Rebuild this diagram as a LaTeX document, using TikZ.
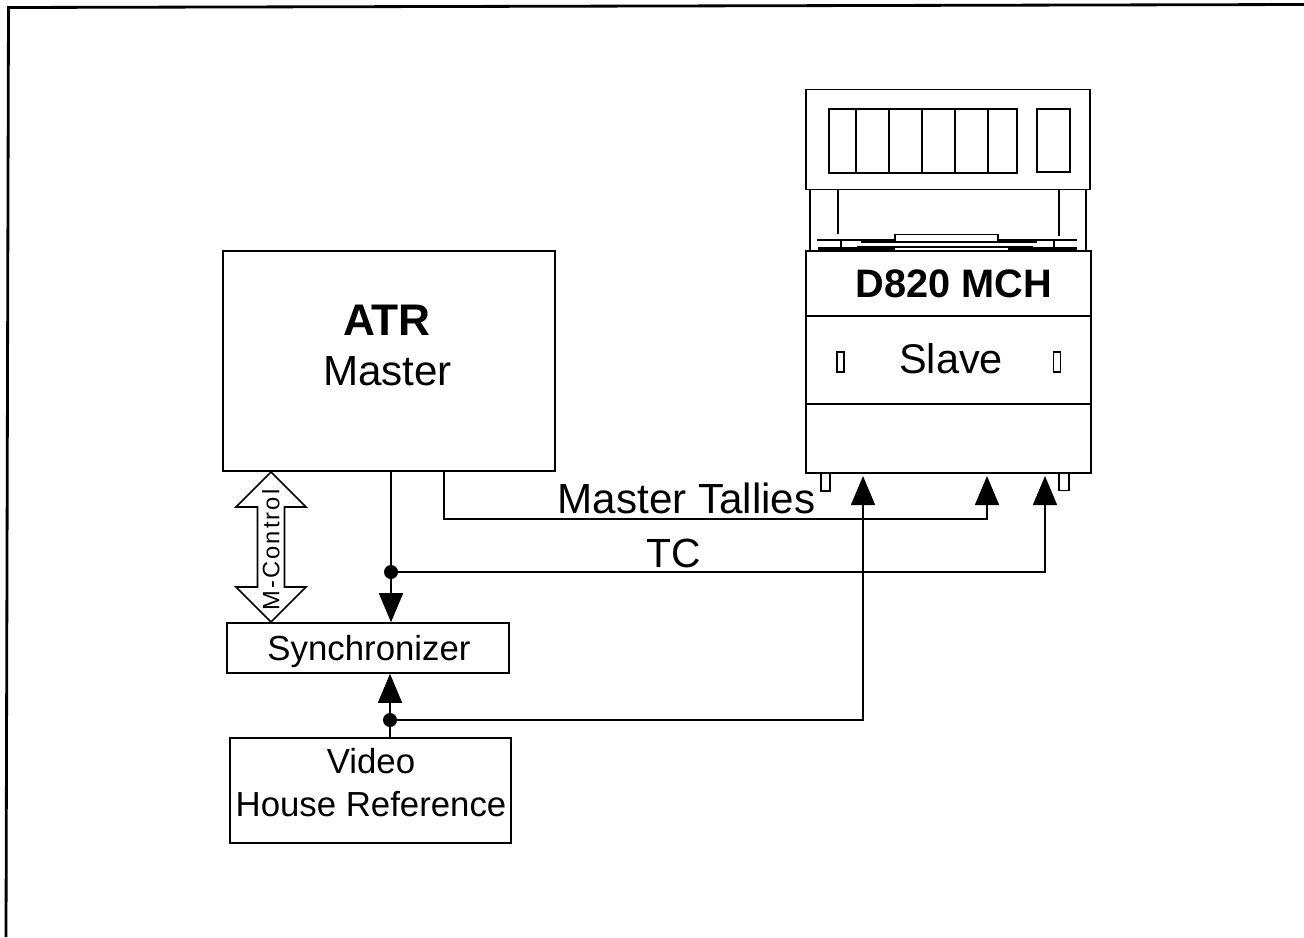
\documentclass[tikz,border=0pt]{standalone}
\usepackage{fontspec}
\setmainfont{Liberation Sans}
\newfontfamily\spacedfont[LetterSpace=9]{Liberation Sans}
\usetikzlibrary{arrows.meta,shapes.arrows}
\tikzset{
  box/.style={draw, line width=0.9pt, inner sep=0pt},
  big/.style={font=\fontsize{24}{26}\selectfont},
  small/.style={font=\fontsize{19.8}{23}\selectfont},
  dot/.style={circle, fill=black, inner sep=0pt, minimum size=0.28cm},
  link/.style={line width=0.9pt},
  tip/.style={link, -{Triangle[length=0.58cm,width=0.48cm]}, shorten >=0.06cm},
}
\begin{document}
\begin{tikzpicture}[x=0.02cm, y=-0.02cm]
\useasboundingbox (0,0) rectangle (1304,937);
\draw[line width=1.6pt] (6,937) -- (8.5,7.5) -- (1304,4.5);
% left column
\node[box, minimum width=6.64cm, minimum height=4.4cm] (atr) at (389,361) {};
\node[font=\fontsize{25.2}{26}\selectfont\bfseries] (atrname) at (387,320) {ATR};
\node[big] (atrrole) at (387.5,371) {Master};
\node[box, minimum width=5.64cm, minimum height=1cm] (sync) at (368,648) {};
\node[small] (syncname) at (369,651.5) {Synchronizer};
\node[box, minimum width=5.62cm, minimum height=2.1cm] (video) at (370.5,790.5) {};
\node[small] (videoname) at (371,761) {Video};
\node[small] (videoref) at (371,804) {House Reference};
\node[box, double arrow, rotate=90, minimum height=3cm, minimum width=1.4cm,
  double arrow head extend=0.36cm, inner sep=1pt,
  font=\fontsize{13.5}{14}\spacedfont] (mctl) at (271,547) {\makebox[0pt]{M-Control\hspace*{0.12cm}}};
% recorder
\node[box, minimum width=5.68cm, minimum height=2cm] (transport) at (948,139.5) {};
\node[box, minimum width=3.76cm, minimum height=1.28cm] (meters) at (923,141) {};
\foreach \x in {856,889,922,955,988} \draw[link] (\x,109) -- (\x,173);
\node[box, minimum width=0.66cm, minimum height=1.26cm] (metersb) at (1053.5,140.5) {};
\foreach \x in {810,1086} \draw[link] (\x,189) -- (\x,251);
\draw[link] (838,189) -- (838,234);
\draw[link] (1059,189) -- (1059,236);
\draw[link] (817,240) -- (895,240) (998,240) -- (1077,240);
\draw[line width=1.2pt] (861,241.5) -- (1037,241.5);
\node[box, fill=white, minimum width=2.06cm, minimum height=0.14cm] (hub) at (946.5,238) {};
\foreach \x in {841,1054} \draw[link] (\x,240) -- (\x,249);
\draw[link] (857,247) -- (1033,247);
\draw[line width=1.4pt] (818,248.5) -- (895,248.5) (1008,248.5) -- (1077,248.5);
\node[box, minimum width=5.7cm, minimum height=4.44cm] (d820) at (948.5,362) {};
\draw[link] (d820.west |- 0,316) -- (d820.east |- 0,316);
\draw[link] (d820.west |- 0,404) -- (d820.east |- 0,404);
\node[font=\fontsize{22.6}{26}\selectfont\bfseries] (d820name) at (954,284) {D820 MCH};
\node[font=\fontsize{23.6}{26}\selectfont] (d820role) at (951,359) {Slave};
\node[box, line width=0.6pt, minimum width=0.14cm, minimum height=0.4cm] (slotl) at (840.5,362) {};
\node[box, line width=0.6pt, minimum width=0.14cm, minimum height=0.4cm] (slotr) at (1057,362) {};
\node[box, minimum width=0.18cm, minimum height=0.36cm] (footl) at (825.5,482) {};
\node[box, minimum width=0.2cm, minimum height=0.36cm] (footr) at (1064,481.5) {};
% connectors
\node[dot] (tcjoin) at (391,572) {};
\node[dot] (refjoin) at (390,720) {};
\coordinate (talport) at (987,473);
\coordinate (tcport) at (1045,473);
\coordinate (refport) at (863,473);
\draw[tip, shorten >=0pt] (atr.south -| tcjoin) -- (tcjoin) -- (sync.north -| tcjoin);
\draw[tip, shorten >=0pt] (video.north -| refjoin) -- (refjoin) -- (sync.south -| refjoin);
\draw[tip] (444,471) |- (987,519) -- (talport);
\draw[tip] (tcjoin) -| (tcport);
\draw[tip] (refjoin) -| (refport);
% labels
\node[big] (tallies) at (686.5,498) {Master Tallies};
\node[font=\fontsize{23.2}{26}\selectfont] (tc) at (673.5,553) {TC};
\end{tikzpicture}
\end{document}
